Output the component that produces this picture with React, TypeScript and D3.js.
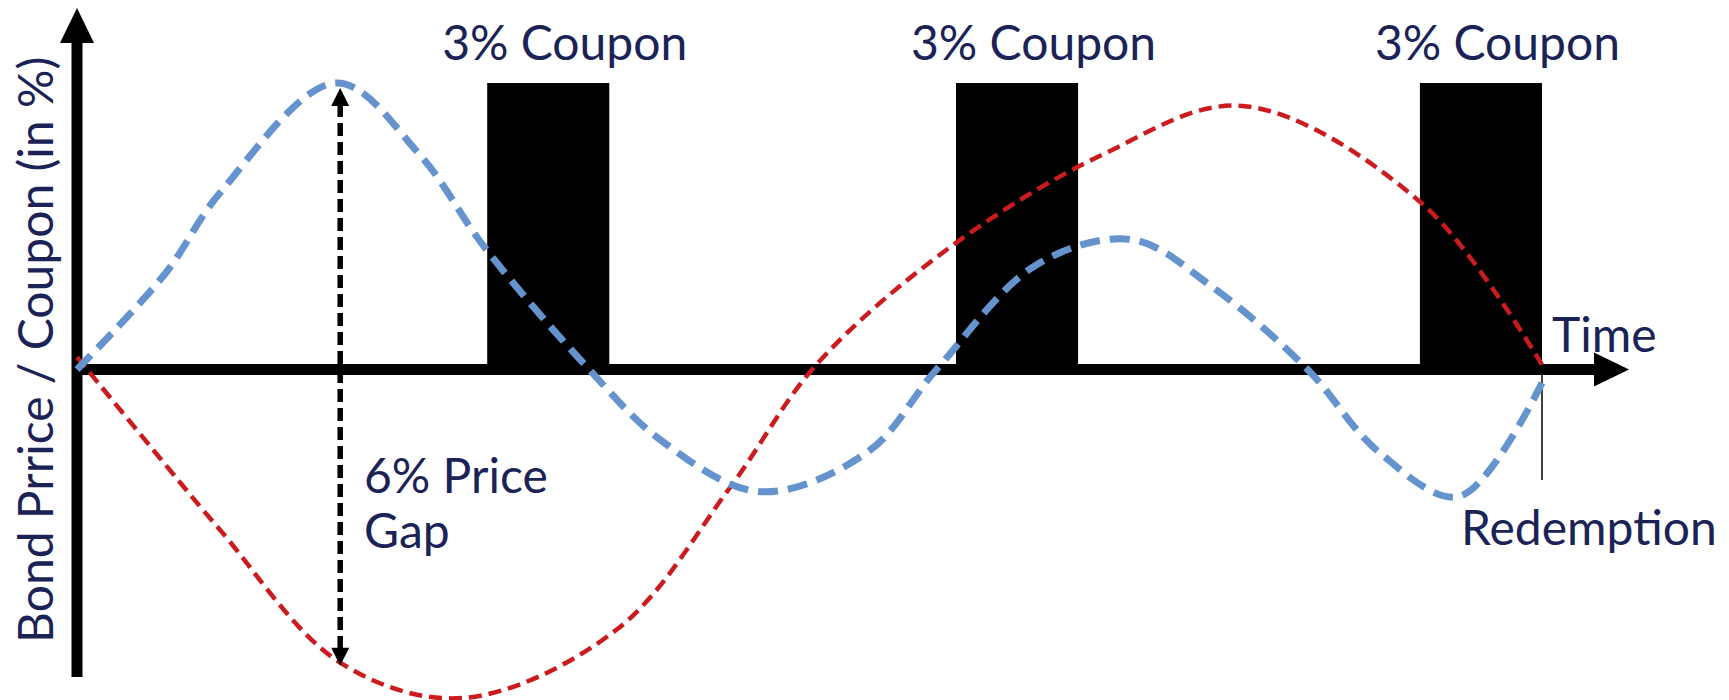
import React, { useEffect, useRef } from 'react';
import * as d3 from 'd3';

// time in years, value in %
const couponStarts = [0.84, 1.8, 2.75];
const couponWidth = 0.25;
const couponValue = 3;
const couponLabels = ['3% Coupon', '3% Coupon', '3% Coupon'];

const blueT = [0, 0.18, 0.293, 0.531, 0.7, 0.836, 1.04, 1.198, 1.4, 1.62, 1.76, 1.966, 2.16, 2.326, 2.52, 2.665, 2.83, 3.0];
const blueV = [0, 1.0, 1.85, 3.0, 2.26, 1.27, 0.05, -0.75, -1.28, -0.86, 0, 1.1, 1.36, 0.86, 0, -0.86, -1.33, -0.14];

const redT = [0, 0.18, 0.293, 0.539, 0.79, 1.106, 1.338, 1.514, 1.785, 2.1, 2.387, 2.756, 3.0];
const redV = [0.13, -0.99, -1.68, -3.07, -3.44, -2.72, -1.23, 0.05, 1.27, 2.25, 2.76, 1.73, 0.05];

const gapT = 0.539;
const gapTop = 3.0;
const gapBottom = -3.07;
const redemptionT = 3.0;

const App = () => {
  const ref = useRef<SVGSVGElement>(null);

  useEffect(() => {
    const svg = d3.select(ref.current);
    svg.selectAll('*').remove();

    const navy = '#1b2356';
    const font = 'Lato, "Open Sans", sans-serif';

    const x = d3.scaleLinear().domain([0, 3]).range([77, 1542]);
    const y = d3.scaleLinear().domain([0, 3]).range([369.5, 83]);

    // coupon bars
    svg.selectAll('.bar')
      .data(couponStarts)
      .enter()
      .append('rect')
      .attr('x', d => x(d))
      .attr('y', y(couponValue))
      .attr('width', d => x(d + couponWidth) - x(d))
      .attr('height', y(0) - y(couponValue))
      .attr('fill', '#000');

    svg.selectAll('.coupon')
      .data(couponStarts)
      .enter()
      .append('text')
      .attr('x', d => x(d) - 45)
      .attr('y', 60)
      .style('font-family', font)
      .style('font-size', '48px')
      .attr('fill', navy)
      .text((d, i) => couponLabels[i]);

    // axes
    svg.append('line')
      .attr('x1', x(0)).attr('x2', 1596)
      .attr('y1', y(0)).attr('y2', y(0))
      .attr('stroke', '#000').attr('stroke-width', 11);
    svg.append('path')
      .attr('d', `M1594,${y(0) - 17}L1629,${y(0)}L1594,${y(0) + 17}Z`)
      .attr('fill', '#000');

    svg.append('line')
      .attr('x1', x(0)).attr('x2', x(0))
      .attr('y1', 677).attr('y2', 41)
      .attr('stroke', '#000').attr('stroke-width', 11);
    svg.append('path')
      .attr('d', `M${x(0) - 17},43L${x(0)},8L${x(0) + 17},43Z`)
      .attr('fill', '#000');

    // redemption marker
    svg.append('line')
      .attr('x1', x(redemptionT)).attr('x2', x(redemptionT))
      .attr('y1', 375).attr('y2', 480)
      .attr('stroke', '#000').attr('stroke-width', 1.5);

    const bluePts: [number, number][] = blueT.map((t, i) => [x(t), y(blueV[i])]);
    const redPts: [number, number][] = redT.map((t, i) => [x(t), y(redV[i])]);
    const pathGen = d3.line().curve(d3.curveCatmullRom.alpha(0.5));

    svg.append('path')
      .attr('d', pathGen(redPts))
      .attr('fill', 'none')
      .attr('stroke', '#cc1b1f')
      .attr('stroke-width', 4.5)
      .attr('stroke-dasharray', '13 7');

    svg.append('path')
      .attr('d', pathGen(bluePts))
      .attr('fill', 'none')
      .attr('stroke', '#6593cd')
      .attr('stroke-width', 7)
      .attr('stroke-dasharray', '20 10');

    // price gap arrow
    const gx = x(gapT);
    const gy1 = y(gapTop) + 5;
    const gy2 = y(gapBottom) + 3;
    svg.append('line')
      .attr('x1', gx).attr('x2', gx)
      .attr('y1', gy1 + 16).attr('y2', gy2 - 16)
      .attr('stroke', '#000')
      .attr('stroke-width', 5.5)
      .attr('stroke-dasharray', '13 6');
    svg.append('path')
      .attr('d', `M${gx - 9},${gy1 + 18}L${gx},${gy1}L${gx + 9},${gy1 + 18}Z`)
      .attr('fill', '#000');
    svg.append('path')
      .attr('d', `M${gx - 9},${gy2 - 18}L${gx},${gy2}L${gx + 9},${gy2 - 18}Z`)
      .attr('fill', '#000');

    const addText = (tx: number, ty: number, s: string) =>
      svg.append('text')
        .attr('x', tx).attr('y', ty)
        .style('font-family', font)
        .style('font-size', '48px')
        .attr('fill', navy)
        .text(s);

    addText(364, 493, '6% Price');
    addText(364, 548, 'Gap');
    addText(1552, 352, 'Time');
    addText(1461, 545, 'Redemption');

    svg.append('text')
      .attr('transform', 'translate(53,643) rotate(-90)')
      .style('font-family', font)
      .style('font-size', '48px')
      .attr('fill', navy)
      .text('Bond Prrice / Coupon (in %)');
  }, []);

  return (
    <svg
      ref={ref}
      width={1729}
      height={700}
      style={{ position: 'absolute', left: 0, top: 0, background: '#fff' }}
    ></svg>
  );
};

export default App;
